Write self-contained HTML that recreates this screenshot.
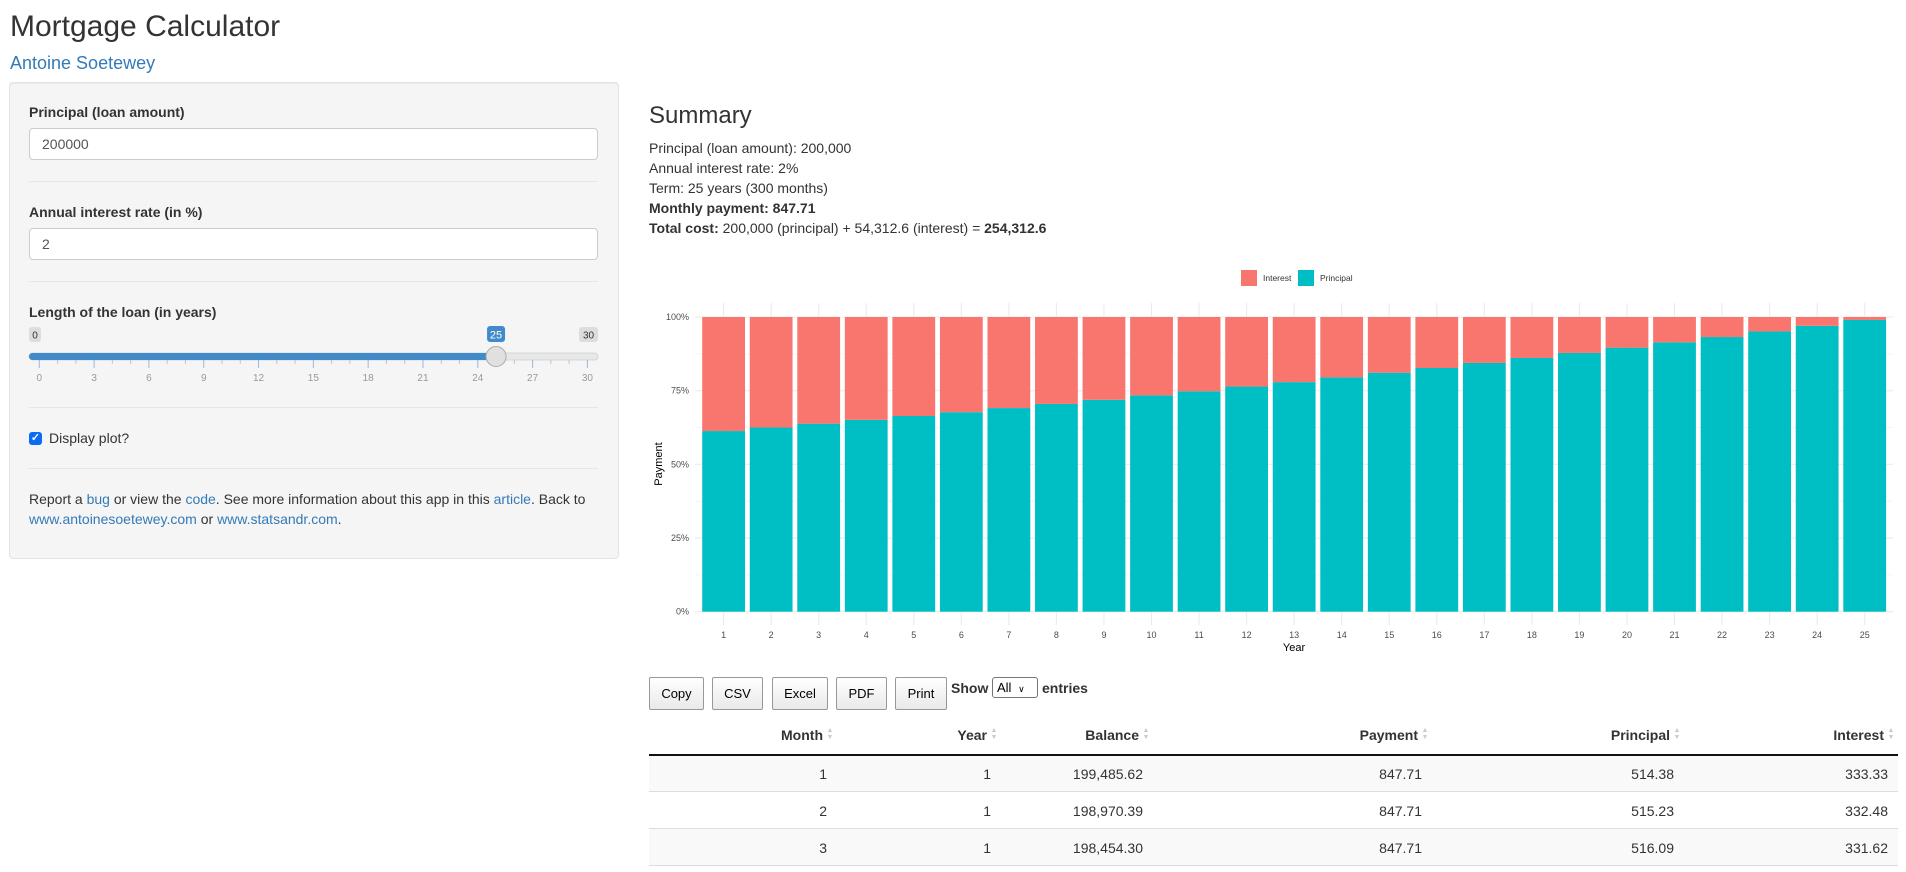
<!DOCTYPE html>
<html><head><meta charset="utf-8"><title>Mortgage Calculator</title>
<style>
*{box-sizing:border-box;margin:0;padding:0}
body{width:1906px;height:872px;overflow:hidden;background:#fff;font-family:"Liberation Sans",Arial,sans-serif;color:#333;position:relative;font-size:14px}
.a{position:absolute;white-space:nowrap}
a{color:#337ab7;text-decoration:none}
.lbl{font-weight:bold;font-size:14px;line-height:20px}
.inp{position:absolute;left:29px;width:569px;height:32px;background:#fff;border:1px solid #ccc;border-radius:4px;font-size:14px;line-height:30px;padding-left:12px;color:#555}
.hr{position:absolute;left:29px;width:569px;height:1px;background:#e6e6e6}
.btn{position:absolute;top:677px;height:33px;border:1px solid #999;border-radius:2px;background:linear-gradient(#fff,#e9e9e9);font-size:13px;line-height:31px;text-align:center;color:#000}
</style></head><body>
<div class="a" style="left:10px;top:12px;font-size:30px;line-height:30px;color:#333">Mortgage Calculator</div>
<a class="a" href="#" style="left:10px;top:53px;font-size:18px;line-height:20px">Antoine Soetewey</a>

<div style="position:absolute;left:9px;top:82px;width:610px;height:477px;background:#f5f5f5;border:1px solid #e3e3e3;border-radius:4px;box-shadow:inset 0 1px 1px rgba(0,0,0,.05)"></div>
<div class="a lbl" style="left:29px;top:102px">Principal (loan amount)</div>
<div class="inp" style="top:128px">200000</div>
<div class="hr" style="top:181px"></div>
<div class="a lbl" style="left:29px;top:202px">Annual interest rate (in %)</div>
<div class="inp" style="top:228px">2</div>
<div class="hr" style="top:281px"></div>
<div class="a lbl" style="left:29px;top:302px">Length of the loan (in years)</div>

<svg style="position:absolute;left:0;top:320px" width="620" height="70" id="slider"></svg>

<div class="hr" style="top:407px"></div>
<div style="position:absolute;left:29px;top:432px;width:13px;height:13px;background:#0a6cf5;border-radius:3px;color:#fff;font-size:11px;line-height:13px;text-align:center;font-weight:bold">✓</div>
<div class="a" style="left:49px;top:428px;line-height:20px">Display plot?</div>
<div class="hr" style="top:468px"></div>
<div class="a" style="left:29px;top:489px;line-height:20px">Report a <a href="#">bug</a> or view the <a href="#">code</a>. See more information about this app in this <a href="#">article</a>. Back to<br><a href="#">www.antoinesoetewey.com</a> or <a href="#">www.statsandr.com</a>.</div>

<div class="a" style="left:649px;top:103px;font-size:24px;line-height:26px">Summary</div>
<div class="a" style="left:649px;top:138px;line-height:20px">Principal (loan amount): 200,000<br>Annual interest rate: 2%<br>Term: 25 years (300 months)<br><b>Monthly payment: 847.71</b><br><b>Total cost:</b> 200,000 (principal) + 54,312.6 (interest) = <b>254,312.6</b></div>

<svg id="chart" style="position:absolute;left:0;top:0" width="1906" height="660"></svg>

<div class="btn" style="left:649px;width:55px">Copy</div>
<div class="btn" style="left:712px;width:51px">CSV</div>
<div class="btn" style="left:772px;width:56px">Excel</div>
<div class="btn" style="left:836px;width:51px">PDF</div>
<div class="btn" style="left:895px;width:52px">Print</div>
<div class="a" style="left:951px;top:678px;font-weight:bold;line-height:20px">Show</div>
<div style="position:absolute;left:992px;top:677px;width:46px;height:21px;border:1px solid #767676;border-radius:3px;background:#fff;font-size:13px;line-height:19px;padding-left:4px;color:#000">All <span style="font-size:9px;margin-left:3px">&#x2228;</span></div>
<div class="a" style="left:1042px;top:678px;font-weight:bold;line-height:20px">entries</div>

<div id="table"></div>

<script>
// ---- chart data ----
const years = [1,2,3,4,5,6,7,8,9,10,11,12,13,14,15,16,17,18,19,20,21,22,23,24,25];
const principalShare = [0.613,0.625,0.638,0.651,0.664,0.677,0.691,0.705,0.719,0.734,0.748,0.764,0.779,0.795,0.811,0.827,0.844,0.861,0.878,0.896,0.914,0.932,0.951,0.970,0.990];
const interestShare = [0.387,0.375,0.362,0.349,0.336,0.323,0.309,0.295,0.281,0.266,0.252,0.236,0.221,0.205,0.189,0.173,0.156,0.139,0.122,0.104,0.086,0.068,0.049,0.030,0.010];
const yTicks = [0,0.25,0.5,0.75,1];
const yTickLabels = ["0%","25%","50%","75%","100%"];
const legendLabels = ["Interest","Principal"];
const seriesColors = ["#F8766D","#00BFC4"];

// ---- table data ----
const tableHeaders = ["Month","Year","Balance","Payment","Principal","Interest"];
const tableRows = [
 ["1","1","199,485.62","847.71","514.38","333.33"],
 ["2","1","198,970.39","847.71","515.23","332.48"],
 ["3","1","198,454.30","847.71","516.09","331.62"]
];

const NS="http://www.w3.org/2000/svg";
function mk(parent,tag,attrs){const e=document.createElementNS(NS,tag);for(const k in attrs)e.setAttribute(k,attrs[k]);parent.appendChild(e);return e;}

// axis functions
const xFirst=723.6, xLast=1864.7;
const step=(xLast-xFirst)/(years.length-1);
function xScale(yr){return xFirst+(yr-years[0])*step;}
const y0=611.7, y1=317;
function yScale(v){return y0-(y0-y1)*v;}
const barW=step*0.9;

const svg=document.getElementById('chart');
for(let v=0; v<=1.0001; v+=0.125){
  const major=Math.abs(v*4-Math.round(v*4))<1e-6;
  const g=mk(svg,'line',{x1:695,x2:1893,y1:yScale(v),y2:yScale(v),stroke:'#ebebeb','stroke-width':major?1.1:0.55});
  
  
}
years.forEach(yr=>{
  const g=mk(svg,'line',{x1:xScale(yr),x2:xScale(yr),y1:303,y2:625,stroke:'#ebebeb','stroke-width':1.1});
  
  
});
years.forEach((yr,i)=>{
  const x=xScale(yr)-barW/2;
  const p=mk(svg,'rect',{x:x,y:yScale(principalShare[i]),width:barW,height:yScale(0)-yScale(principalShare[i]),fill:seriesColors[1]});
  
  
  const it=mk(svg,'rect',{x:x,y:yScale(principalShare[i]+interestShare[i]),width:barW,height:yScale(principalShare[i])-yScale(principalShare[i]+interestShare[i]),fill:seriesColors[0]});
  
  
  const t=mk(svg,'text',{x:xScale(yr),y:638,'font-size':9,'text-anchor':'middle',fill:'#4d4d4d','font-family':'Liberation Sans, sans-serif'});
  t.textContent=yr;
  
  
});
yTicks.forEach((v,i)=>{
  const t=mk(svg,'text',{x:689,y:yScale(v)+3,'font-size':9,'text-anchor':'end',fill:'#4d4d4d','font-family':'Liberation Sans, sans-serif'});
  t.textContent=yTickLabels[i];
  
  
});
const yt=mk(svg,'text',{x:0,y:0,'font-size':11,'text-anchor':'middle',fill:'#000','font-family':'Liberation Sans, sans-serif',transform:'translate(662,464) rotate(-90)'});
yt.textContent='Payment';


const xt=mk(svg,'text',{x:1294,y:651,'font-size':11,'text-anchor':'middle',fill:'#000','font-family':'Liberation Sans, sans-serif'});
xt.textContent='Year';


const legX=[1241,1298], legTX=[1263,1320];
legendLabels.forEach((lab,i)=>{
  const r=mk(svg,'rect',{x:legX[i],y:270,width:16,height:16,fill:seriesColors[i]});
  
  
  const t=mk(svg,'text',{x:legTX[i],y:281,'font-size':8.5,fill:'#333','font-family':'Liberation Sans, sans-serif'});
  t.textContent=lab;
  
  
});

// slider
const sl=document.getElementById('slider');
const sx0=39.3, sstep=18.27;
function sX(v){return sx0+v*sstep;}
mk(sl,'rect',{x:29,y:33,width:569,height:7,rx:3.5,fill:'#e8e8e8',stroke:'#ccc','stroke-width':0.8});
mk(sl,'rect',{x:29,y:33,width:sX(25)-29,height:7,rx:3.5,fill:'#428bca'});
for(let v=0;v<=30;v++){
  const maj=v%3===0;
  mk(sl,'line',{x1:sX(v),x2:sX(v),y1:40,y2:maj?48:44,stroke:maj?'#9ab8d8':'#b8c8d8','stroke-width':1});
  if(maj){const t=mk(sl,'text',{x:sX(v),y:61,'font-size':10,'text-anchor':'middle',fill:'#999','font-family':'Liberation Sans, sans-serif'});t.textContent=v;}
}
mk(sl,'rect',{x:29,y:7,width:12,height:15,rx:3,fill:'#ddd'});
let t0=mk(sl,'text',{x:35,y:18.5,'font-size':10,'text-anchor':'middle',fill:'#333','font-family':'Liberation Sans, sans-serif'});t0.textContent='0';
mk(sl,'rect',{x:579,y:7,width:19,height:15,rx:3,fill:'#ddd'});
let t30=mk(sl,'text',{x:588.5,y:18.5,'font-size':10,'text-anchor':'middle',fill:'#333','font-family':'Liberation Sans, sans-serif'});t30.textContent='30';
mk(sl,'rect',{x:sX(25)-9,y:6,width:18,height:16,rx:3,fill:'#428bca'});
let t25=mk(sl,'text',{x:sX(25),y:18.5,'font-size':11,'text-anchor':'middle',fill:'#fff','font-family':'Liberation Sans, sans-serif'});t25.textContent='25';
mk(sl,'circle',{cx:sX(25),cy:36.5,r:10,fill:'#e0e0e0',stroke:'#aaa','stroke-width':1});

// table
const tbl=document.getElementById('table');
const colRight=[827,991,1143,1422,1674,1888];
const tLeft=649, tRight=1898;
function addDiv(style,html,name){const d=document.createElement('div');d.style.cssText=style;d.innerHTML=html;
 
 
 tbl.appendChild(d);return d;}
tableRows.forEach((row,r)=>{
  const top=755+r*37;
  addDiv('position:absolute;left:'+tLeft+'px;top:'+top+'px;width:'+(tRight-tLeft)+'px;height:37px;background:'+(r%2===0?'#f9f9f9':'#fff')+';border-bottom:1px solid #ddd','', 'table-row');
  row.forEach((v,c)=>{
    addDiv('position:absolute;right:'+(1906-colRight[c])+'px;top:'+(top+9)+'px;font-size:14px;line-height:20px;color:#333',v,'table-cell');
  });
});
addDiv('position:absolute;left:'+tLeft+'px;top:754px;width:'+(tRight-tLeft)+'px;height:2px;background:#111','','table-header-border');
tableHeaders.forEach((h,c)=>{
  const hr=colRight[c]+9;
  const d=addDiv('position:absolute;right:'+(1906-hr+13)+'px;top:725px;font-size:14px;line-height:20px;font-weight:bold;color:#333',h,'column-header-'+h.toLowerCase());
  
  addDiv('position:absolute;left:'+(hr-10)+'px;top:727px;width:8px;height:16px;font-size:7px;line-height:7px;color:#ccc;text-align:center','▲<br>▼','sort-icon');
});
</script>
</body></html>
